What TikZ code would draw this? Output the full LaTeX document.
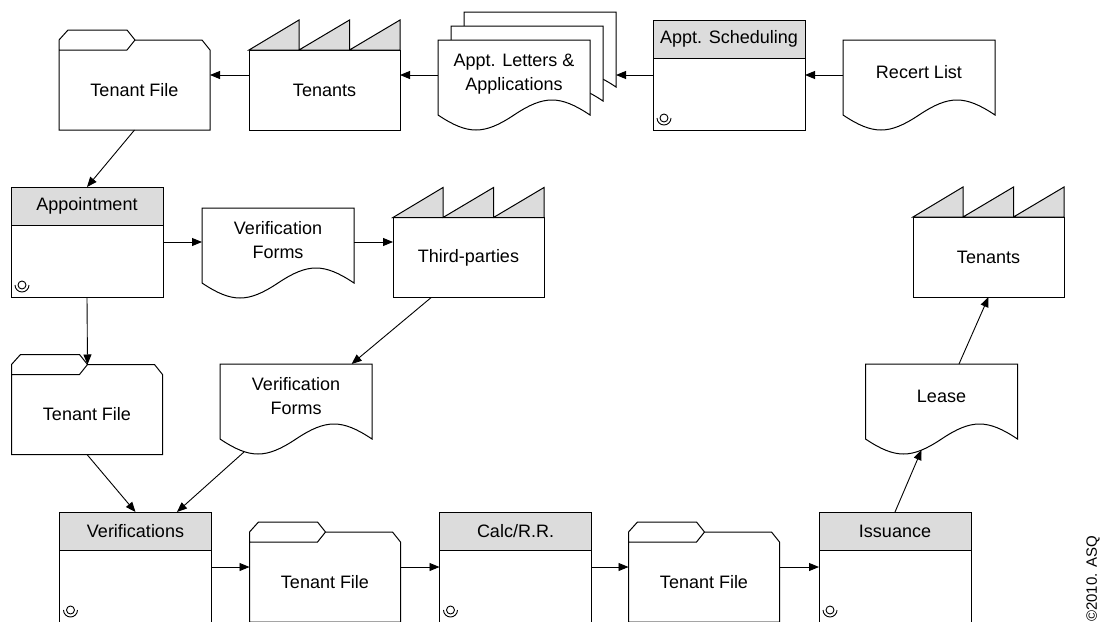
\documentclass[tikz,border=0pt]{standalone}
\usepackage{fontspec}
\setmainfont{Liberation Sans}
\usetikzlibrary{arrows.meta,calc,backgrounds}

\definecolor{hdrgray}{HTML}{DCDCDC}

% outlines drawn after the nodes (flipped y: negative is up)
\newcommand\docoutline[1]{(#1.south west) -- (#1.north west) -- (#1.north east)
  -- (#1.south east) .. controls +(-30,-20) and +(30,-20) .. (#1.south)
  .. controls +(-30,20) and +(30,20) .. (#1.south west) -- cycle}
\newcommand\folderoutline[1]{(#1.south west) -- (#1.north west) -- ++(0,-10)
  -- ++(9,-10) -- ++(59,0) -- ++(8,10) -- ++(67,0) -- (#1.north east)
  -- (#1.south east) -- cycle (#1.north west) -- ++(68,0) -- ++(8,-10)}
\newcommand\factoryroof[1]{(#1.north west) -- ++(50,-30) -- ++(0,30)
  -- ++(50.5,-30) -- ++(0,30) -- ++(50.5,-30) -- (#1.north east) -- cycle}
\newcommand\operatormark[1]{\draw[line width=0.9pt] ($(#1.south west)+(11,-12)$)
  circle (4) ++(-7,0) arc[start angle=180,end angle=0,radius=7];}

\begin{document}
\begin{tikzpicture}[
  x=1pt, y=-1pt,
  font=\fontsize{18}{24}\selectfont,
  shp/.style={line width=1pt},
  arr/.style={-{Triangle[length=10pt,width=8pt]},line width=0.9pt},
  hdr/.style={anchor=north,draw,line width=1pt,fill=hdrgray,minimum width=152pt,
    minimum height=38pt,inner sep=0pt,outer sep=0pt},
  opbox/.style={draw,line width=1pt,minimum width=152pt,minimum height=110pt,
    inner sep=0pt,outer sep=0pt,label={[hdr]north:#1}},
  doc/.style={minimum width=152pt,minimum height=75pt,inner sep=0pt,outer sep=0pt,
    align=center,text depth=11pt},
  folder/.style={minimum width=151pt,minimum height=80pt,inner sep=0pt,outer sep=0pt},
  factory/.style={draw,line width=1pt,minimum width=151pt,minimum height=80pt,
    inner sep=0pt,outer sep=0pt}
]
  \useasboundingbox (0,0) rectangle (1105,621);
  \clip (0,0) rectangle (1105,621);

  % top row
  \node[folder] (tenfile1) at (134.5,90) {Tenant File};
  \node[factory] (tenants1) at (324.5,90) {Tenants};
  \node[doc] (letters2) at (540,49.5) {};
  \node[doc] (letters1) at (527,63.5) {};
  \node[doc] (letters) at (514,77.5) {Appt. Letters \&\\Applications};
  \node[opbox=Appt. Scheduling] (sched) at (729,75) {};
  \node[doc] (recert) at (919,77.5) {Recert List};

  % middle
  \node[opbox=Appointment] (appt) at (87,242) {};
  \node[doc] (vforms1) at (278,245.5) {Verification\\Forms};
  \node[factory] (third) at (468.5,257.5) {Third-parties};
  \node[factory] (tenants2) at (988.5,257) {Tenants};
  \node[folder] (tenfile2) at (87,414.5) {Tenant File};
  \node[doc] (vforms2) at (296,401.5) {Verification\\Forms};
  \node[doc] (lease) at (941.5,401.5) {Lease};

  % bottom row
  \node[opbox=Verifications] (verif) at (135.5,567) {};
  \node[folder] (tenfile3) at (325,582) {Tenant File};
  \node[opbox=Calc/R.R.] (calcrr) at (515.5,567) {};
  \node[folder] (tenfile4) at (704,582) {Tenant File};
  \node[opbox=Issuance] (issue) at (895,567) {};

  \node[rotate=90,font=\fontsize{15}{17}\selectfont] (asq) at (1093,579) {©2010. ASQ};

  \foreach \n in {tenfile1,tenfile2,tenfile3,tenfile4}
    \draw[shp] \folderoutline{\n};
  \foreach \n in {tenants1,third,tenants2}
    \filldraw[shp,fill=hdrgray] \factoryroof{\n};
  \foreach \n in {recert,letters,vforms1,vforms2,lease}
    \draw[shp] \docoutline{\n};
  \foreach \n in {sched,appt,verif,calcrr,issue}
    \operatormark{\n};

  \begin{scope}[on background layer]
    \fill[white] (0,0) rectangle (1105,621);
    \filldraw[shp,fill=white] \docoutline{letters2};
    \filldraw[shp,fill=white] \docoutline{letters1};
    \fill[white] \docoutline{letters};
  \end{scope}

  \coordinate (tenfile2tab) at ($(tenfile2.north west)+(76,-10)$);
  \coordinate (vforms2foot) at ($(vforms2.south west)+(24,13)$);
  \coordinate (leasefoot) at ($(lease.south west)+(56,11)$);

  % connectors
  \draw[arr] (recert.west |- sched.west) -- (sched.east);
  \draw[arr] (sched.west) -- (sched.west -| letters2.east);
  \draw[arr] (letters.west |- sched.west) -- (tenants1.east |- sched.west);
  \draw[arr] (tenants1.west |- sched.west) -- (tenfile1.east |- sched.west);
  \draw[arr] (tenfile1.south) -- (appt.north);
  \draw[arr] (appt.east) -- (appt.east -| vforms1.west);
  \draw[arr] (vforms1.east |- appt.east) -- (third.west |- appt.east);
  \draw[arr] (appt.south) -- (tenfile2tab);
  \draw[arr] (third.-133) -- (vforms2.34);
  \draw[arr] (tenfile2.south) -- (verif.north);
  \draw[arr] (vforms2foot) -- (verif.53.6);
  \draw[arr] (verif.east) -- (verif.east -| tenfile3.west);
  \draw[arr] (tenfile3.east |- verif.east) -- (calcrr.west);
  \draw[arr] (calcrr.east) -- (calcrr.east -| tenfile4.west);
  \draw[arr] (tenfile4.east |- calcrr.east) -- (issue.west);
  \draw[arr] (issue.north) -- (leasefoot);
  \draw[arr] (lease.65) -- (tenants2.south);
\end{tikzpicture}
\end{document}
